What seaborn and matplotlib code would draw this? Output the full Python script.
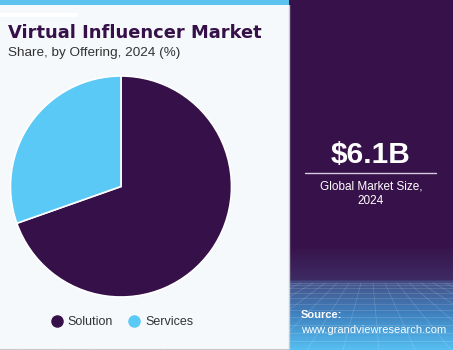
import numpy as np
import matplotlib
matplotlib.use("Agg")
import matplotlib.pyplot as plt
import seaborn as sns
from matplotlib.patches import Rectangle
from matplotlib.lines import Line2D
from matplotlib.colors import LinearSegmentedColormap

# ---- data ----
categories = ["Solution", "Services"]
shares = [69.6, 30.4]
colors = ["#361048", "#5bc9f5"]
title = "Virtual Influencer Market"
subtitle = "Share, by Offering, 2024 (%)"
market_value = "$6.1B"
market_label = "Global Market Size,\n2024"
source_label = "Source:"
source_url = "www.grandviewresearch.com"

sns.set_theme(style="white")
plt.rcParams['font.family'] = ['Liberation Sans', 'DejaVu Sans']

W, H = 453, 350
fig = plt.figure(figsize=(W / 100, H / 100), dpi=100)
fig.patch.set_facecolor("white")

# background axes in pixel coordinates (y downward)
bg = fig.add_axes([0, 0, 1, 1])
bg.set_xlim(0, W)
bg.set_ylim(H, 0)
bg.axis("off")

# left panel
bg.add_patch(Rectangle((0, 0), 289, 348, facecolor="#f5f9fc", edgecolor="none"))
bg.add_patch(Rectangle((0, 0), 289, 5, facecolor="#5bc3ee", edgecolor="none"))
bg.add_patch(Rectangle((0, 13), 78, 4, facecolor="white", edgecolor="none"))
bg.plot([288.5, 288.5], [5, 348], color="#c8c8d0", lw=1)
bg.plot([0, 289], [348.5, 348.5], color="#c8c8d0", lw=1)

# right panel gradient
cmap = LinearSegmentedColormap.from_list(
    "rp", [(0, "#371149"), (0.70, "#371149"), (0.80, "#3e2a62"),
           (0.81, "#45538a"), (0.90, "#3f82c0"), (1.0, "#55bdf0")])
grad = np.linspace(0, 1, 350).reshape(-1, 1)
bg.imshow(grad, cmap=cmap, extent=[289, 453, 350, 0], aspect="auto", zorder=1)

# perspective grid on bottom of right panel
hy = 283
for i in range(-12, 25):
    x0 = 289 + i * 12
    bg.plot([x0, 370 + (x0 - 370) * 3.0], [hy, 350],
            color="white", alpha=0.18, lw=0.5, zorder=2)
ys = hy + (350 - hy) * (np.linspace(0, 1, 12) ** 1.5)
for y in ys:
    bg.plot([289, 453], [y, y], color="white", alpha=0.18, lw=0.5, zorder=2)
bg.set_xlim(0, W)
bg.set_ylim(H, 0)

# title texts
bg.text(8, 33, title, fontsize=12.9, fontweight="bold", color="#361048",
        va="center", ha="left", zorder=3, family=["DejaVu Sans"])
bg.text(8, 53, subtitle, fontsize=9.7, color="#333333", va="center", ha="left", zorder=3)

# right panel texts
bg.text(371, 155, market_value, fontsize=21.5, fontweight="bold", color="white",
        ha="center", va="center", zorder=3)
bg.plot([305, 436], [173, 173], color="#d8cce0", lw=1, zorder=3)
bg.text(371, 193.5, market_label, fontsize=8.5, color="white", ha="center",
        va="center", linespacing=1.3, zorder=3)
bg.text(301, 315, source_label, fontsize=8, fontweight="bold", color="white",
        ha="left", va="center", zorder=3)
bg.text(301, 330, source_url, fontsize=8, color="white", ha="left",
        va="center", zorder=3)

# pie
cx, cy, r = 121, 186.5, 110.5
ax = fig.add_axes([(cx - r) / W, (H - cy - r) / H, 2 * r / W, 2 * r / H])
ax.pie(shares, colors=colors, startangle=90, counterclock=False,
       wedgeprops=dict(edgecolor="white", linewidth=1.2))
ax.set_xlim(-1, 1)
ax.set_ylim(-1, 1)
ax.set_aspect("equal")
ax.axis("off")

# legend
handles = [Line2D([0], [0], marker="o", linestyle="none", markersize=8,
                  markerfacecolor=c, markeredgecolor=c) for c in colors]
fig.legend(handles, categories, loc="center", bbox_to_anchor=(123 / W, 1 - 322 / H),
           ncol=2, frameon=False, fontsize=9, handlelength=0.7, handletextpad=0.5,
           columnspacing=1.35, labelcolor="#333333")

fig.savefig("out.png", dpi=100)
